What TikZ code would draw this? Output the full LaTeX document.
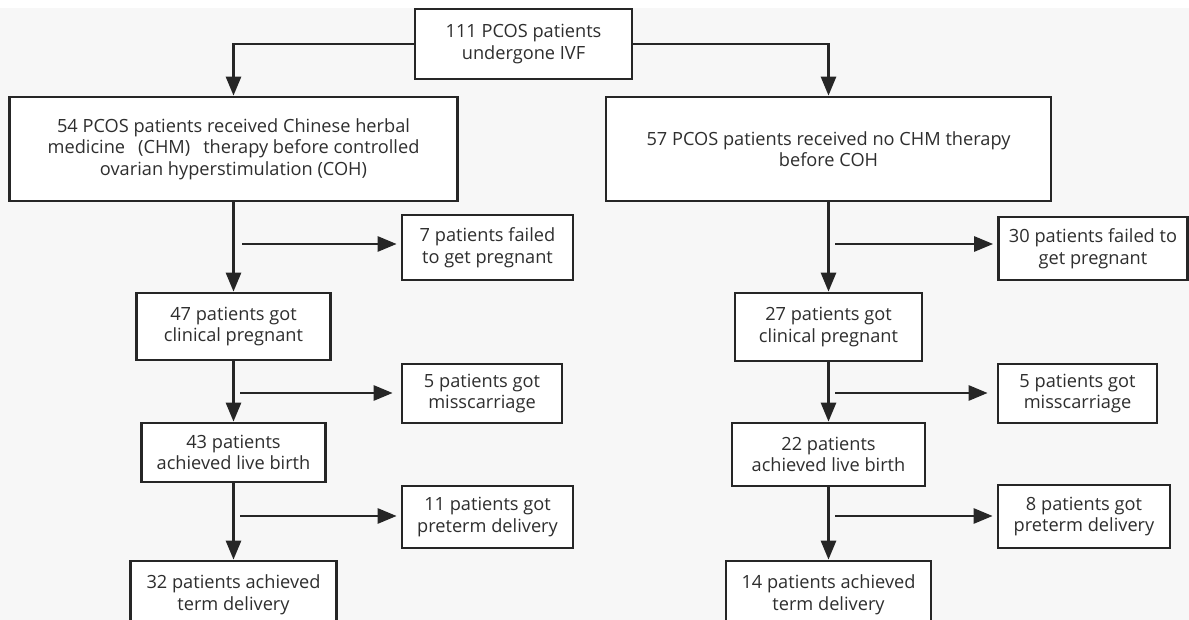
\documentclass[tikz,border=0pt]{standalone}
\usepackage{fontspec}
\setmainfont{Open Sans}
\usetikzlibrary{arrows.meta}
\definecolor{bg}{HTML}{F7F7F7}
\definecolor{ink}{HTML}{262626}
\definecolor{txt}{HTML}{2E2E2E}
\begin{document}
\begin{tikzpicture}[x=1pt,y=-1pt,
  box/.style={draw=ink,line width=2.7pt,fill=white,align=center,inner sep=0pt,text=txt,
    font=\fontsize{18.2}{21.5}\selectfont},
  conn/.style={draw=ink,line width=2.7pt,-{Triangle[length=19pt,width=15pt]}}]
\useasboundingbox (0,0) rectangle (1189,620);
\fill[white] (0,0) rectangle (1189,620);
\fill[bg] (0,8) rectangle (1189,620);

% top
\node[box,minimum width=217pt,minimum height=70pt] (top) at (523.5,44) {111 PCOS patients\\undergone IVF};

% left column
\node[box,minimum width=448pt,minimum height=104pt] (L1) at (233.5,149) {54 PCOS patients received Chinese herbal\\medicine\hspace{13pt}(CHM)\hspace{13pt}therapy before controlled\\ovarian hyperstimulation (COH)};
\node[box,minimum width=194pt,minimum height=67pt] (L2) at (233.5,326.5) {47 patients got\\clinical pregnant};
\node[box,minimum width=184pt,minimum height=59pt] (L3) at (233.5,452.5) {43 patients\\achieved live birth};
\node[box,minimum width=206pt,minimum height=68pt] (L4) at (233.5,595) {32 patients achieved\\term delivery};
\node[box,minimum width=171pt,minimum height=65pt] (LS1) at (487.5,247.5) {7 patients failed\\to get pregnant};
\node[box,minimum width=160pt,minimum height=59pt] (LS2) at (482,393.5) {5 patients got\\misscarriage};
\node[box,minimum width=171pt,minimum height=62pt] (LS3) at (487.5,517) {11 patients got\\preterm delivery};

% right column
\node[box,minimum width=445pt,minimum height=104pt] (R1) at (828.5,149) {57 PCOS patients received no CHM therapy\\before COH};
\node[box,minimum width=187pt,minimum height=68pt] (R2) at (828.5,327) {27 patients got\\clinical pregnant};
\node[box,minimum width=193pt,minimum height=63pt] (R3) at (828.5,454.5) {22 patients\\achieved live birth};
\node[box,minimum width=205pt,minimum height=68pt] (R4) at (828.5,595) {14 patients achieved\\term delivery};
\node[box,minimum width=189pt,minimum height=63pt] (RS1) at (1093,248.5) {30 patients failed to\\get pregnant};
\node[box,minimum width=159pt,minimum height=59pt] (RS2) at (1077.5,393.5) {5 patients got\\misscarriage};
\node[box,minimum width=172pt,minimum height=63pt] (RS3) at (1084,516.5) {8 patients got\\preterm delivery};

% connectors
\draw[conn] (top.west) -| (L1.north);
\draw[conn] (top.east) -| (R1.north);
\draw[conn] (L1.south) -- (L2.north);
\draw[conn] (L2.south) -- (L3.north);
\draw[conn] (L3.south) -- (L4.north);
\draw[conn] (R1.south) -- (R2.north);
\draw[conn] (R2.south) -- (R3.north);
\draw[conn] (R3.south) -- (R4.north);

\coordinate (la1) at (242,244);
\coordinate (la2) at (240,393);
\coordinate (la3) at (240,516);
\coordinate (ra1) at (835,244);
\coordinate (ra2) at (835,393);
\coordinate (ra3) at (835,516);
\draw[conn] (la1) -- ([xshift=-4pt]la1 -| LS1.west);
\draw[conn] (la2) -- ([xshift=-8pt]la2 -| LS2.west);
\draw[conn] (la3) -- ([xshift=-4pt]la3 -| LS3.west);
\draw[conn] (ra1) -- ([xshift=-4pt]ra1 -| RS1.west);
\draw[conn] (ra2) -- ([xshift=-9pt]ra2 -| RS2.west);
\draw[conn] (ra3) -- ([xshift=-4pt]ra3 -| RS3.west);
\end{tikzpicture}
\end{document}
